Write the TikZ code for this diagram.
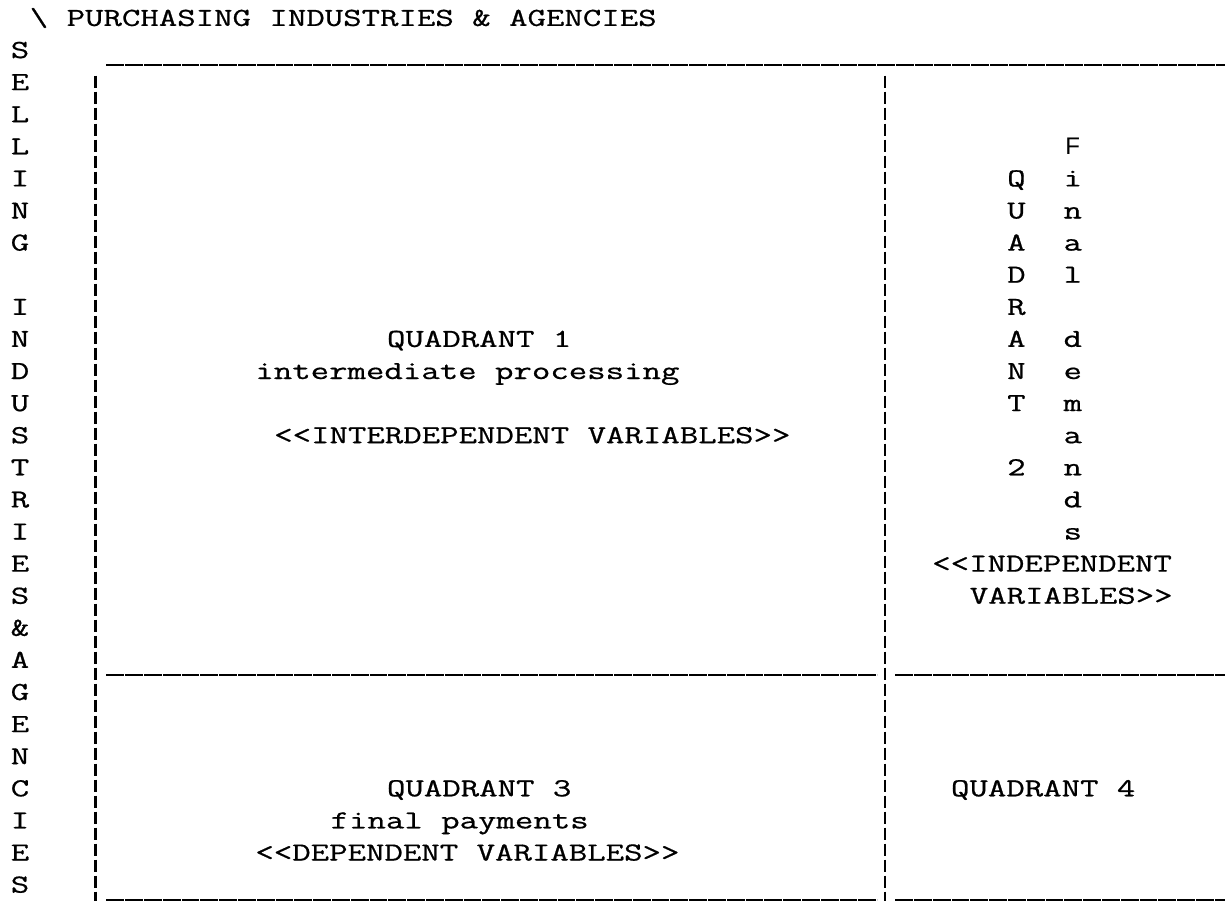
\documentclass[tikz,border=0pt]{standalone}
\usepackage{fontspec}
\newfontfamily\signfont{Liberation Sans}
\newfontfamily\typefont[FakeBold=0.6]{Latin Modern Mono}
\newcommand{\tw}[1]{\scalebox{1.377}[1]{#1}}

\begin{document}
\begin{tikzpicture}[x=9.4pt,y=-16.05pt,every node/.style={font=\typefont\fontsize{13}{13}\selectfont,inner sep=0pt}]
\tikzset{txt/.style={anchor=base west},chr/.style={anchor=base},rule/.style={line width=1pt,dash pattern=on 8.9pt off 0.5pt},bar/.style={line width=1.3pt,dash pattern=on 6pt off 2pt}}
\useasboundingbox (-10pt,29pt) rectangle (602.5pt,-422pt);
% heading and the row labels down the left
\node[txt] (purch) at (0.5,-1) {\tw{\textbackslash{} PURCHASING INDUSTRIES \& AGENCIES}};
\foreach \ch [count=\r from 0] in {S,E,L,L,I,N,G} \node[chr] (sell\r) at (0,\r) {\tw{\ch}};
\foreach \ch [count=\r from 8] in {I,N,D,U,S,T,R,I,E,S,\&,A,G,E,N,C,I,E,S} \node[chr] (sell\r) at (0,\r) {\tw{\ch}};
% rules of the table
\coordinate (top w) at (4.6,0.22); \coordinate (top e) at (64.1,0.22);
\coordinate (mid w) at (4.6,19.22); \coordinate (mid c) at (45.6,19.22); \coordinate (mid d) at (46.55,19.22); \coordinate (mid e) at (64.1,19.22);
\coordinate (bot w) at (4.6,26.22); \coordinate (bot c) at (45.6,26.22); \coordinate (bot d) at (46.55,26.22); \coordinate (bot e) at (64.1,26.22);
\coordinate (left n) at (4,0.55); \coordinate (left s) at (4,26.25);
\coordinate (sep n) at (46,0.55); \coordinate (sep s) at (46,26.25);
\draw[rule] (top w) -- (top e);
\draw[rule] (mid w) -- (mid c); \draw[rule] (mid d) -- (mid e);
\draw[rule] (bot w) -- (bot c); \draw[rule] (bot d) -- (bot e);
\draw[bar] (left n) -- (left s);
\draw[bar] (sep n) -- (sep s);
% quadrant 1
\node[txt] (q1) at (19.5,9) {\tw{QUADRANT 1}};
\node[txt] (q1sub) at (12.5,10) {\tw{intermediate processing}};
\node[txt] (q1var) at (13.5,12) {\tw{<{}<INTERDEPENDENT VARIABLES>{}>}};
% quadrant 2, set downwards
\foreach \ch [count=\r from 4] in {Q,U,A,D,R,A,N,T} \node[chr] (q2\r) at (53,\r) {\tw{\ch}};
\node[chr] (q2num) at (53,13) {\tw{2}};
\node[chr] (fin3) at (56,3) {\signfont\fontsize{12}{12}\selectfont F};
\foreach \ch [count=\r from 4] in {i,n,a,l} \node[chr] (fin\r) at (56,\r) {\tw{\ch}};
\foreach \ch [count=\r from 9] in {d,e,m,a,n,d,s} \node[chr] (fin\r) at (56,\r) {\tw{\ch}};
\node[txt] (q2var) at (48.5,16) {\tw{<{}<INDEPENDENT}};
\node[txt] (q2varb) at (50.5,17) {\tw{VARIABLES>{}>}};
% quadrants 3 and 4
\node[txt] (q3) at (19.5,23) {\tw{QUADRANT 3}};
\node[txt] (q3sub) at (16.5,24) {\tw{final payments}};
\node[txt] (q3var) at (12.5,25) {\tw{<{}<DEPENDENT VARIABLES>{}>}};
\node[txt] (q4) at (49.5,23) {\tw{QUADRANT 4}};
\end{tikzpicture}
\end{document}
